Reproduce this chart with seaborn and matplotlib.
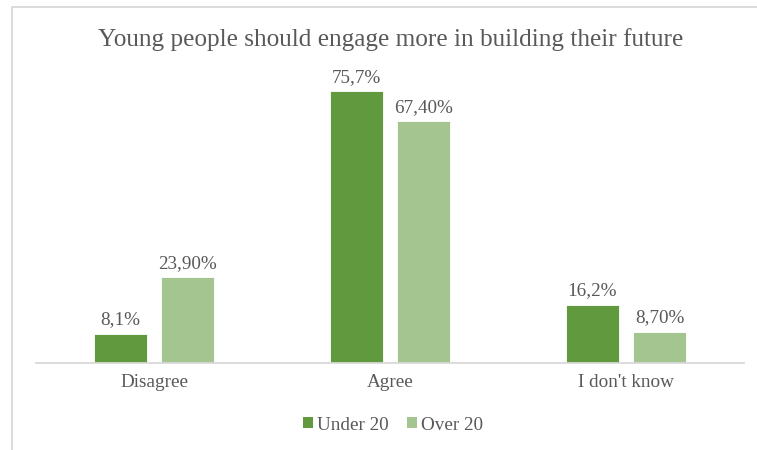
import matplotlib
matplotlib.use("Agg")
import matplotlib.pyplot as plt
from matplotlib.patches import Patch
from matplotlib.lines import Line2D
import seaborn as sns
import pandas as pd

categories = ["Disagree", "Agree", "I don't know"]
groups = ["Under 20", "Over 20"]
under_20 = [8.1, 75.7, 16.2]
over_20 = [23.9, 67.4, 8.7]
under_20_labels = ["8,1%", "75,7%", "16,2%"]
over_20_labels = ["23,90%", "67,40%", "8,70%"]
title = "Young people should engage more in building their future"

colors = {"Under 20": "#619a3e", "Over 20": "#a4c590"}
text_color = "#595959"

df = pd.DataFrame({
    "category": categories * 2,
    "group": [groups[0]] * 3 + [groups[1]] * 3,
    "value": under_20 + over_20,
})

sns.set_theme(style="white")
plt.rcParams["font.family"] = ["Liberation Serif", "DejaVu Serif"]

W, H = 757, 450
fig = plt.figure(figsize=(W / 100, H / 100), dpi=100)
ax = fig.add_axes([36 / W, 1 - 363 / H, (744 - 36) / W, (363 - 76) / H])

sns.barplot(data=df, x="category", y="value", hue="group", order=categories,
            hue_order=groups, palette=colors, saturation=1, width=0.57, gap=0.21,
            edgecolor="white", linewidth=0.6, legend=False, ax=ax)

ax.set_ylim(0, 80)
ax.set_xlim(-0.5, 2.5)
for container, labels in zip(ax.containers, [under_20_labels, over_20_labels]):
    ax.bar_label(container, labels=labels, padding=4, fontsize=13.8, color=text_color)

for side in ["left", "right", "top"]:
    ax.spines[side].set_visible(False)
ax.spines["bottom"].set_color("#d9d9d9")
ax.spines["bottom"].set_linewidth(1.3)
ax.set_yticks([])
ax.set_xlabel("")
ax.set_ylabel("")
ax.tick_params(axis="x", length=0, pad=8, labelsize=13.8, labelcolor=text_color)

fig.text(391 / W, 1 - 40 / H, title, ha="center", va="center",
         fontsize=18.2, color=text_color)

handles = [Patch(facecolor=colors[g], edgecolor="none", label=g) for g in groups]
fig.legend(handles=handles, loc="center", bbox_to_anchor=(393 / W, 1 - 425 / H),
           ncol=2, frameon=False, fontsize=13.8, labelcolor=text_color,
           handlelength=0.5, handleheight=0.5, handletextpad=0.2, columnspacing=1.0)

# outer frame lines
frame_kw = dict(color="#d9d9d9", linewidth=1.3, transform=fig.transFigure)
fig.add_artist(Line2D([11.5 / W, 1], [1 - 6.5 / H, 1 - 6.5 / H], **frame_kw))
fig.add_artist(Line2D([11.5 / W, 11.5 / W], [0, 1 - 6.5 / H], **frame_kw))

fig.savefig("out.png", dpi=100)
